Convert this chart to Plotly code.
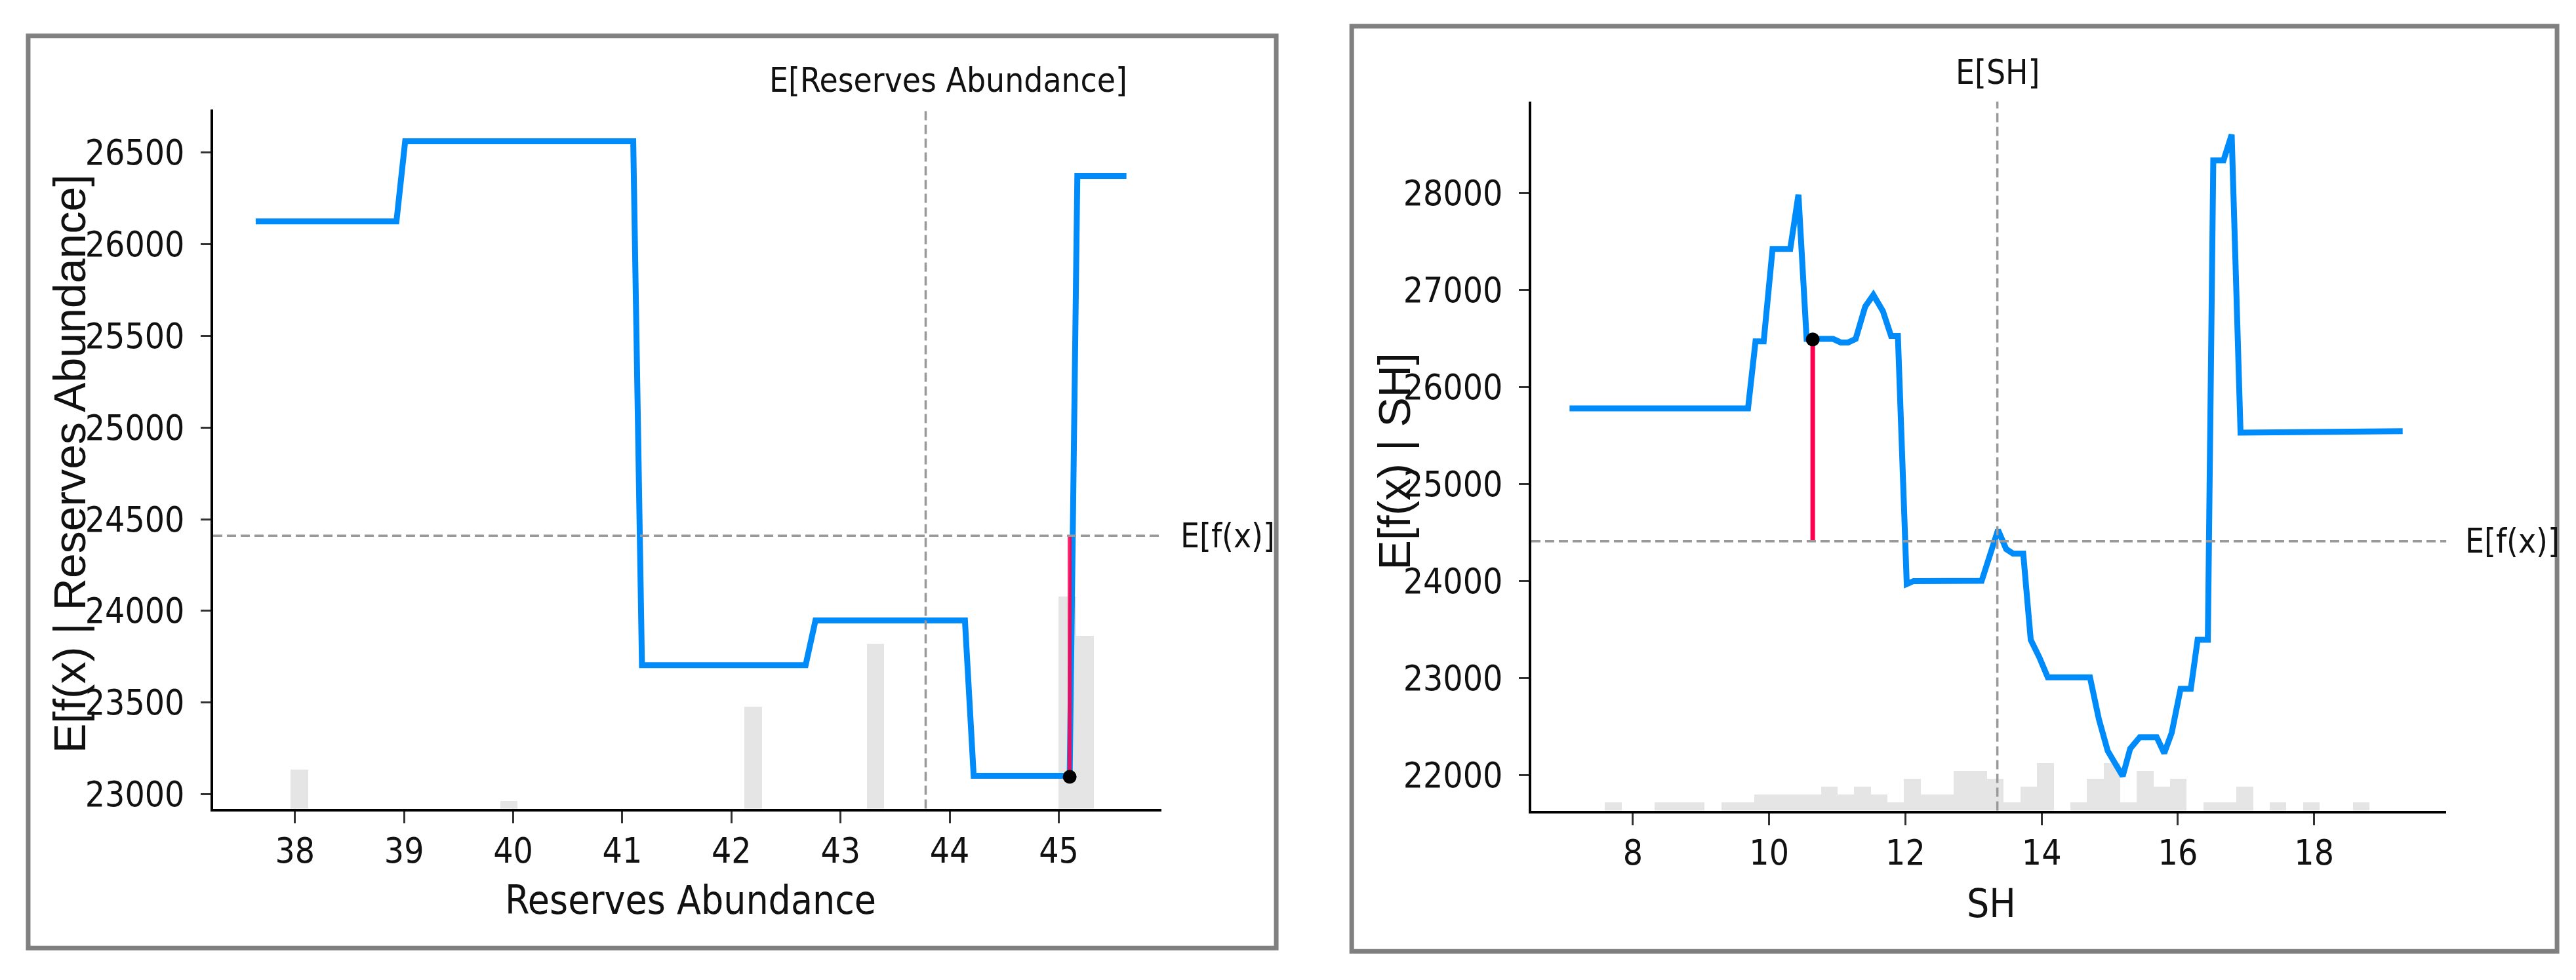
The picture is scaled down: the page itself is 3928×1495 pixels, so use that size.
import plotly.graph_objects as go

# ---------------- data ----------------
# Left panel: Reserves Abundance partial dependence
ra_x = [37.64, 38.93, 39.01, 41.10, 41.18, 42.68, 42.77, 44.14, 44.22, 45.10, 45.17, 45.62]
ra_y = [26124, 26124, 26561, 26561, 23704, 23704, 23948, 23948, 23101, 23101, 26371, 26371]
ra_hist_x = [38.04, 39.96, 42.20, 43.32, 45.08, 45.24]
ra_hist_n = [5, 1, 13, 21, 27, 22]
ra_bin_w = 0.16
ra_mean = 43.78
ra_inst_x = 45.10
ra_inst_y = 23095

# Right panel: SH partial dependence
sh_x = [7.07, 9.69, 9.80, 9.92, 10.05, 10.31, 10.43, 10.55, 10.67, 10.94, 11.05, 11.16,
        11.27, 11.41, 11.53, 11.67, 11.79, 11.89, 12.02, 12.12, 13.12, 13.36, 13.48, 13.58,
        13.73, 13.84, 13.97, 14.09, 14.71, 14.84, 14.97, 15.10, 15.19, 15.30, 15.44, 15.69,
        15.80, 15.91, 16.04, 16.19, 16.29, 16.44, 16.52, 16.67, 16.79, 16.92, 17.70, 17.75, 19.30]
sh_y = [25780, 25780, 26471, 26471, 27423, 27423, 27982, 26495, 26495, 26495, 26459, 26459,
        26495, 26828, 26949, 26782, 26526, 26526, 23970, 24000, 24003, 24527, 24330, 24284,
        24284, 23396, 23209, 23008, 23008, 22578, 22251, 22087, 21990, 22274, 22391, 22391,
        22227, 22438, 22891, 22891, 23396, 23396, 28335, 28335, 28600, 25530, 25530, 25545, 25545]
sh_hist_x = [7.710, 8.442, 8.686, 8.930, 9.418, 9.662, 9.906, 10.150, 10.394, 10.638, 10.882,
             11.126, 11.370, 11.614, 11.858, 12.102, 12.346, 12.590, 12.834, 13.078, 13.322,
             13.566, 13.810, 14.054, 14.542, 14.786, 15.030, 15.274, 15.518, 15.762, 16.006,
             16.494, 16.738, 16.982, 17.470, 17.958, 18.690]
sh_hist_n = [1, 1, 1, 1, 1, 1, 2, 2, 2, 2, 3,
             2, 3, 2, 1, 4, 2, 2, 5, 5, 4,
             1, 3, 6, 1, 4, 6, 1, 5, 3, 4,
             1, 1, 3, 1, 1, 1]
sh_bin_w = 0.244
sh_mean = 13.35
sh_inst_x = 10.64
sh_inst_y = 26490

n_samples = 89
base_value = 24410

# ---------------- styling ----------------
BLUE = "#008BFB"
RED = "#FF0051"
DASH = "#999999"
HIST = "rgba(0,0,0,0.1)"
NARROW = "DejaVu Sans Condensed, Liberation Sans, sans-serif"
REG = "Liberation Sans, Arial, sans-serif"

W, H = 3928, 1495
L_DOM_X = [0.0807, 0.4488]
L_DOM_Y = [0.1753, 0.8930]
R_DOM_X = [0.5924, 0.9476]
R_DOM_Y = [0.1732, 0.9010]

fig = go.Figure()

# histograms (base axes, hidden)
fig.add_trace(go.Bar(x=ra_hist_x, y=ra_hist_n, width=ra_bin_w, marker=dict(color=HIST, line=dict(width=0)),
                     xaxis="x", yaxis="y", showlegend=False, hoverinfo="skip"))
fig.add_trace(go.Bar(x=sh_hist_x, y=sh_hist_n, width=sh_bin_w, marker=dict(color=HIST, line=dict(width=0)),
                     xaxis="x2", yaxis="y3", showlegend=False, hoverinfo="skip"))

# left curve + instance
fig.add_trace(go.Scatter(x=ra_x, y=ra_y, mode="lines", line=dict(color=BLUE, width=9),
                         xaxis="x", yaxis="y2", showlegend=False))
fig.add_trace(go.Scatter(x=[ra_inst_x, ra_inst_x], y=[base_value, ra_inst_y], mode="lines",
                         line=dict(color=RED, width=6), opacity=0.85, xaxis="x", yaxis="y2", showlegend=False))
fig.add_trace(go.Scatter(x=[ra_inst_x], y=[ra_inst_y], mode="markers",
                         marker=dict(color="black", size=21), xaxis="x", yaxis="y2", showlegend=False))

# right curve + instance
fig.add_trace(go.Scatter(x=sh_x, y=sh_y, mode="lines", line=dict(color=BLUE, width=9),
                         xaxis="x2", yaxis="y4", showlegend=False))
fig.add_trace(go.Scatter(x=[sh_inst_x, sh_inst_x], y=[base_value, sh_inst_y], mode="lines",
                         line=dict(color=RED, width=7), xaxis="x2", yaxis="y4", showlegend=False))
fig.add_trace(go.Scatter(x=[sh_inst_x], y=[sh_inst_y], mode="markers",
                         marker=dict(color="black", size=21), xaxis="x2", yaxis="y4", showlegend=False))

tickfont = dict(family=NARROW, size=53, color="#111111")
common_x = dict(showline=True, linecolor="black", linewidth=4, ticks="outside", ticklen=18,
                tickwidth=3, tickcolor="#333333", showgrid=False, zeroline=False,
                tickfont=tickfont, ticklabelstandoff=-3)
common_y = dict(showline=True, linecolor="black", linewidth=4, ticks="outside", ticklen=15,
                tickwidth=3, tickcolor="#333333", showgrid=False, zeroline=False,
                tickfont=tickfont, tickformat="d", ticklabelstandoff=14)
hidden_y = dict(visible=False, showgrid=False, zeroline=False, fixedrange=True)

fig.update_layout(
    width=W, height=H, autosize=False,
    margin=dict(l=0, r=0, t=0, b=0),
    paper_bgcolor="white", plot_bgcolor="rgba(0,0,0,0)",
    bargap=0, barmode="overlay",
    xaxis=dict(domain=L_DOM_X, range=[37.25, 45.94], anchor="y", tick0=38, dtick=1, **common_x),
    yaxis=dict(domain=L_DOM_Y, range=[0, n_samples], anchor="x", **hidden_y),
    yaxis2=dict(overlaying="y", anchor="x", side="left", range=[22922, 26734], tick0=23000, dtick=500, **common_y),
    xaxis2=dict(domain=R_DOM_X, range=[6.508, 19.94], anchor="y3", tick0=8, dtick=2, **common_x),
    yaxis3=dict(domain=R_DOM_Y, range=[0, n_samples], anchor="x2", **hidden_y),
    yaxis4=dict(overlaying="y3", anchor="x2", side="left", range=[21635, 28940], tick0=22000, dtick=1000, **common_y),
)

shapes = []
# panel borders
shapes.append(dict(type="rect", xref="paper", yref="paper", x0=0.0089, x1=0.4934, y0=0.0321, y1=0.9686,
                   line=dict(color="#808080", width=7), fillcolor="rgba(0,0,0,0)", layer="above"))
shapes.append(dict(type="rect", xref="paper", yref="paper", x0=0.5227, x1=0.9906, y0=0.0288, y1=0.9785,
                   line=dict(color="#808080", width=7), fillcolor="rgba(0,0,0,0)", layer="above"))
dash_line = dict(color=DASH, width=3.5, dash="14px,7px")
shapes.append(dict(type="line", xref="x", yref="y domain", x0=ra_mean, x1=ra_mean, y0=0, y1=1, line=dash_line, layer="above"))
shapes.append(dict(type="line", xref="x domain", yref="y2", x0=0, x1=1, y0=base_value, y1=base_value, line=dash_line, layer="above"))
shapes.append(dict(type="line", xref="x2", yref="y3 domain", x0=sh_mean, x1=sh_mean, y0=0, y1=1, line=dash_line, layer="above"))
shapes.append(dict(type="line", xref="x2 domain", yref="y4", x0=0, x1=1, y0=base_value, y1=base_value, line=dash_line, layer="above"))
fig.update_layout(shapes=shapes)

lab_font = dict(family=NARROW, size=51, color="#111111")
title_font_h = dict(family=NARROW, size=60, color="#111111")
title_font_v = dict(family=REG, size=68, color="#111111")
ann = [
    dict(text="E[Reserves Abundance]", xref="x", x=ra_mean, xshift=35, yref="paper", y=L_DOM_Y[1] + 0.030,
         xanchor="center", yanchor="middle", showarrow=False, font=lab_font),
    dict(text="E[f(x)]", xref="paper", x=L_DOM_X[1] + 0.0069, yref="y2", y=base_value,
         xanchor="left", yanchor="middle", showarrow=False, font=lab_font),
    dict(text="E[SH]", xref="x2", x=sh_mean, yref="paper", y=R_DOM_Y[1] + 0.030,
         xanchor="center", yanchor="middle", showarrow=False, font=lab_font),
    dict(text="E[f(x)]", xref="paper", x=R_DOM_X[1] + 0.0069, yref="y4", y=base_value,
         xanchor="left", yanchor="middle", showarrow=False, font=lab_font),
    dict(text="Reserves Abundance", xref="paper", x=0.266, yref="paper", y=0.0816,
         xanchor="center", yanchor="middle", showarrow=False, font=title_font_h),
    dict(text="SH", xref="paper", x=0.771, yref="paper", y=0.078,
         xanchor="center", yanchor="middle", showarrow=False, font=title_font_h),
    dict(text="E[f(x) | Reserves Abundance]", xref="paper", x=0.025, yref="paper", y=0.529,
         xanchor="center", yanchor="middle", textangle=-90, showarrow=False, font=title_font_v),
    dict(text="E[f(x) | SH]", xref="paper", x=0.5392, yref="paper", y=0.532,
         xanchor="center", yanchor="middle", textangle=-90, showarrow=False, font=title_font_v),
]
fig.update_layout(annotations=ann)

fig.write_html("out.html")
